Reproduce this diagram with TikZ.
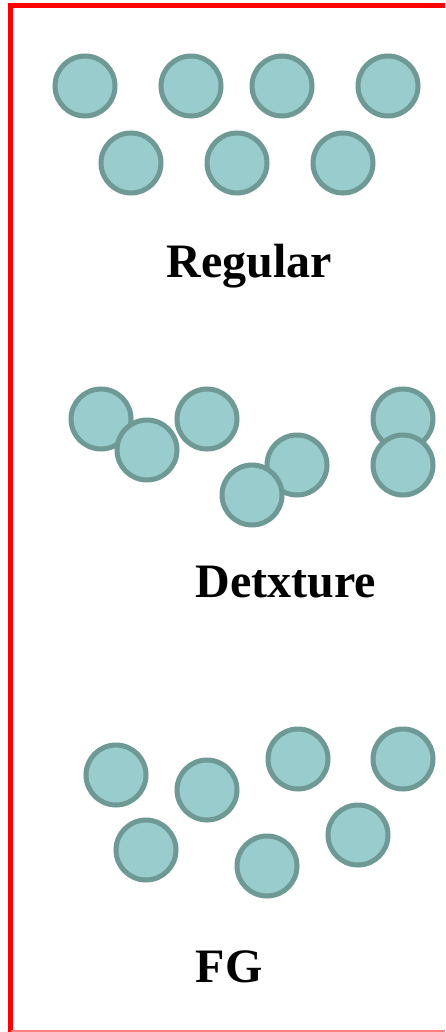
\documentclass[tikz,border=0pt]{standalone}
\usepackage{fontspec}
\setmainfont{Liberation Serif}
\usepackage{xcolor}
\usepackage{tikz}
\usetikzlibrary{
	positioning,    % relative placement
	shapes.geometric
}
\definecolor{beadfill}{RGB}{153,204,204}
\definecolor{beadline}{RGB}{110,153,148}

\begin{document}
\begin{tikzpicture}[x=1pt, y=-1pt,
		bead/.style={circle, draw=beadline, fill=beadfill, line width=5pt,
			minimum size=60pt, inner sep=0pt},
		caption/.style={anchor=base, font=\bfseries\fontsize{48}{48}\selectfont}]
		% Dimensioni della pagina
		\useasboundingbox (0,0) rectangle (445,1032);
		
		% --- Cornice ---
		\draw[red, line width=5pt] (10.5,1032) -- (10.5,5.5) -- (445,5.5);
		\draw[red!50, line width=1.5pt] (10.5,1031.2) -- (445,1031.2);
		
		% --- Regular ---
		\foreach \x [count=\i] in {85,191,282,388}
		\node[bead] (reg-a\i) at (\x,86) {};
		\foreach \x [count=\i] in {131,237,343}
		\node[bead] (reg-b\i) at (\x,163) {};
		\node[caption] (regular) at (249,277) {Regular};
		
		% --- Detxture ---
		\node[bead] (det-1) at (101,419) {};
		\node[bead] (det-2) at (147,450) {};
		\node[bead] (det-3) at (207,419) {};
		\node[bead] (det-4) at (297,465) {};
		\node[bead] (det-5) at (252,495) {};
		\node[bead] (det-6) at (403,419) {};
		\node[bead] (det-7) at (403,465) {};
		\node[caption] (detxture) at (286,597) {Detxture};
		
		% --- FG ---
		\node[bead] (fg-1) at (116,775) {};
		\node[bead] (fg-2) at (146,850) {};
		\node[bead] (fg-3) at (207,790) {};
		\node[bead] (fg-4) at (298,759) {};
		\node[bead] (fg-5) at (267,866) {};
		\node[bead] (fg-6) at (358,835) {};
		\node[bead] (fg-7) at (403,759) {};
		\node[caption] (fg) at (229,982) {FG};
	\end{tikzpicture}
\end{document}
